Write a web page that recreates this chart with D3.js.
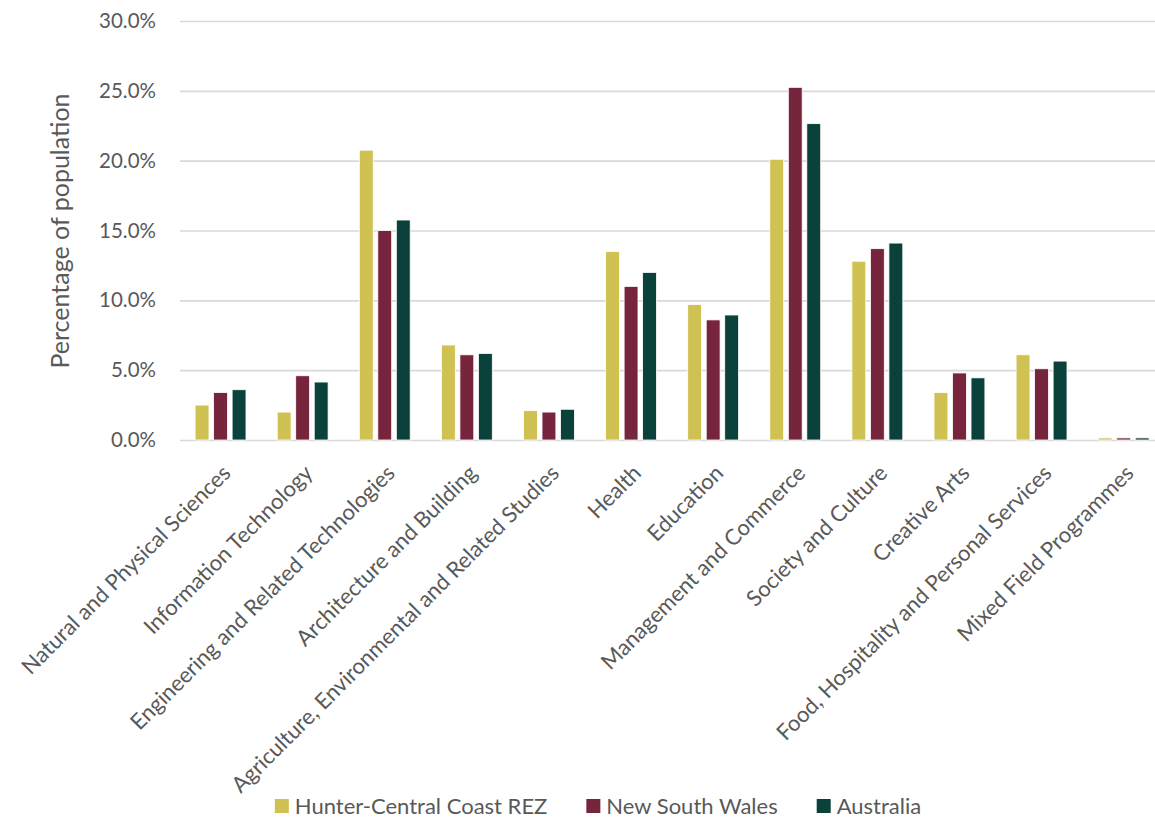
<!DOCTYPE html>
<html>
<head>
<meta charset="utf-8">
<script src="https://cdn.jsdelivr.net/npm/d3@7"></script>
<style>
  body { margin: 0; background: #fff; }
  svg { display: block; }
</style>
</head>
<body>
<script>
// chart size
let width = 1155, height = 818

// categories (fields of study)
let categories = [
  "Natural and Physical Sciences",
  "Information Technology",
  "Engineering and Related Technologies",
  "Architecture and Building",
  "Agriculture, Environmental and Related Studies",
  "Health",
  "Education",
  "Management and Commerce",
  "Society and Culture",
  "Creative Arts",
  "Food, Hospitality and Personal Services",
  "Mixed Field Programmes"
]

// series names + values (percent of population)
let seriesNames = ["Hunter-Central Coast REZ", "New South Wales", "Australia"]
let hunter = [2.5, 2.0, 20.75, 6.8, 2.1, 13.5, 9.7, 20.1, 12.8, 3.4, 6.1, 0.15]
let nsw    = [3.4, 4.6, 15.0, 6.1, 2.0, 11.0, 8.6, 25.25, 13.7, 4.8, 5.1, 0.15]
let aus    = [3.6, 4.15, 15.75, 6.2, 2.2, 12.0, 8.95, 22.65, 14.1, 4.45, 5.65, 0.15]
let yTicks = [0, 5, 10, 15, 20, 25, 30]

let colors = ["#cfc152", "#76253c", "#0a423b"]
let textColor = "#595959"
let font = "Lato, 'Open Sans', sans-serif"

// table built from the arrays above
let table = categories.map((c, i) => ({
  category: c,
  values: [hunter[i], nsw[i], aus[i]]
}))

let svg = d3.select("body").append("svg")
  .attr("width", width)
  .attr("height", height)
  .attr("font-family", font)

// scales
let x0 = d3.scaleBand()
  .domain(categories)
  .range([179.5, 1164.7])
  .paddingInner(0.38)
  .paddingOuter(0.19)

let x1 = d3.scaleBand()
  .domain(d3.range(seriesNames.length))
  .range([0, x0.bandwidth()])
  .paddingInner(0.25)

let y = d3.scaleLinear()
  .domain([0, 30])
  .range([440, 21])

// gridlines + y tick labels
let yAxis = svg.append("g")
  .call(d3.axisLeft(y)
    .tickValues(yTicks)
    .tickSize(-(1165 - 180))
    .tickPadding(24)
    .tickFormat(d => d.toFixed(1) + "%"))
  .attr("transform", "translate(180,0)")

yAxis.select(".domain").remove()
yAxis.selectAll(".tick line")
  .attr("stroke", "#d9d9d9")
  .attr("stroke-width", 1.6)
yAxis.selectAll(".tick text")
  .attr("fill", textColor)
  .attr("font-size", 20.5)
  .attr("font-family", font)

// y axis title
svg.append("text")
  .attr("transform", "translate(60,231) rotate(-90)")
  .attr("text-anchor", "middle")
  .attr("dy", "0.35em")
  .attr("fill", textColor)
  .attr("font-size", 25)
  .text("Percentage of population")

// bars
let group = svg.append("g")
  .selectAll("g")
  .data(table)
  .join("g")
  .attr("transform", d => `translate(${x0(d.category)},0)`)

group.selectAll("rect")
  .data(d => d.values.map((v, i) => ({ series: i, value: v })))
  .join("rect")
  .attr("x", d => x1(d.series))
  .attr("width", x1.bandwidth())
  .attr("y", d => y(d.value))
  .attr("height", d => y(0) - y(d.value))
  .attr("fill", d => colors[d.series])
  .attr("stroke", "#fff")
  .attr("stroke-width", 0.8)

// rotated category labels
svg.append("g")
  .selectAll("text")
  .data(categories)
  .join("text")
  .attr("transform", d => `translate(${x0(d) + x0.bandwidth() / 2 + 6},469) rotate(-45)`)
  .attr("text-anchor", "end")
  .attr("dy", "0.35em")
  .attr("fill", textColor)
  .attr("font-size", 22)
  .text(d => d)

// legend, centred under the chart
let legend = svg.append("g")
  .attr("transform", "translate(0,806)")

let items = legend.selectAll("g")
  .data(seriesNames)
  .join("g")

items.append("rect")
  .attr("y", -7)
  .attr("width", 14)
  .attr("height", 14)
  .attr("fill", (d, i) => colors[i])

items.append("text")
  .attr("x", 20)
  .attr("dy", "0.35em")
  .attr("fill", textColor)
  .attr("font-size", 22)
  .text(d => d)

let offs = [], cur = 0
items.each(function () {
  offs.push(cur)
  cur += 20 + this.querySelector("text").getComputedTextLength() + 39
})
let total = cur - 39
items.attr("transform", (d, i) => `translate(${598 - total / 2 + offs[i]},0)`)
</script>
</body>
</html>
